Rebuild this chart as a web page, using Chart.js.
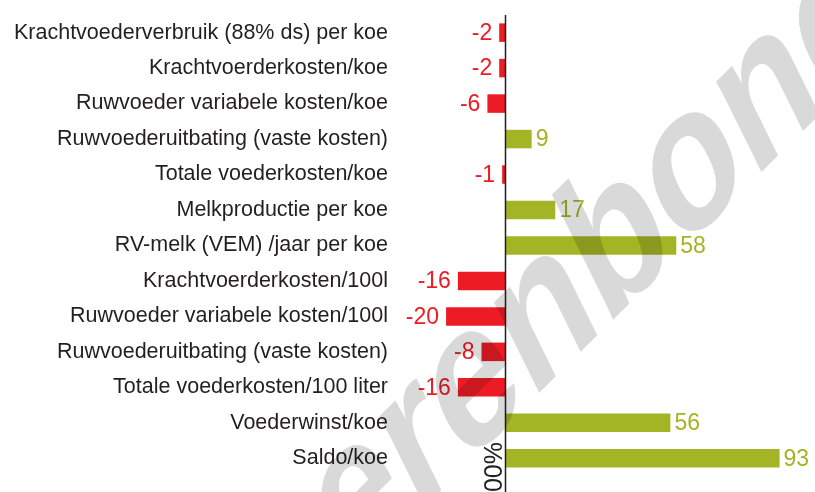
<!DOCTYPE html>
<html>
<head>
<meta charset="utf-8">
<script src="https://cdn.jsdelivr.net/npm/chart.js@4.4.1/dist/chart.umd.min.js"></script>
<style>
html,body{margin:0;padding:0;background:#ffffff;}
#wrap{width:815px;height:492px;position:relative;}
</style>
</head>
<body>
<div id="wrap"><canvas id="c"></canvas></div>
<script>
const categories = [
  'Krachtvoederverbruik (88% ds) per koe',
  'Krachtvoerderkosten/koe',
  'Ruwvoeder variabele kosten/koe',
  'Ruwvoederuitbating (vaste kosten)',
  'Totale voederkosten/koe',
  'Melkproductie per koe',
  'RV-melk (VEM) /jaar per koe',
  'Krachtvoerderkosten/100l',
  'Ruwvoeder variabele kosten/100l',
  'Ruwvoederuitbating (vaste kosten)',
  'Totale voederkosten/100 liter',
  'Voederwinst/koe',
  'Saldo/koe'
];
const values = [-2, -2, -6, 9, -1, 17, 58, -16, -20, -8, -16, 56, 93];
const axisNote = '100%';
const watermarkText = 'boerenbond';

const RED = '#ed1c24';
const GREEN = '#a3b524';
const INK = '#231f20';
const FONT = '"Liberation Sans", Arial, sans-serif';

function drawWatermark(chart) {
  const W = chart.width, H = chart.height;
  const off = document.createElement('canvas');
  off.width = W; off.height = H;
  const o = off.getContext('2d');
  const size = 210;
  const k = 0.705;
  const theta = -35 * Math.PI / 180;
  o.font = 'bold ' + size + 'px ' + FONT;
  const alongE = o.measureText(watermarkText.slice(0, 4)).width + o.measureText('e').width / 2;
  const px = alongE, py = -0.26 * size;
  const c = Math.cos(theta), s = Math.sin(theta);
  const rx = px * c - py * s, ry = px * s + py * c;
  const E = [475, 390];
  o.translate(E[0] - k * rx, E[1] - ry);
  o.scale(k, 1);
  o.rotate(theta);
  o.fillStyle = '#d9d9d9';
  o.textAlign = 'left';
  o.textBaseline = 'alphabetic';
  o.fillText(watermarkText, 0, 0);
  const ctx = chart.ctx;
  ctx.save();
  ctx.setTransform(1, 0, 0, 1, 0, 0);
  ctx.globalCompositeOperation = 'multiply';
  ctx.drawImage(off, 0, 0);
  ctx.restore();
}

const overlay = {
  id: 'overlay',
  afterDraw(chart) {
    const { ctx, chartArea, scales: { x } } = chart;
    const meta = chart.getDatasetMeta(0);
    ctx.save();
    ctx.font = '23px ' + FONT;
    ctx.textBaseline = 'middle';
    meta.data.forEach((bar, i) => {
      const v = values[i];
      ctx.fillStyle = v < 0 ? RED : GREEN;
      if (v < 0) {
        ctx.textAlign = 'right';
        ctx.fillText(String(v), bar.x - 7, bar.y + 1);
      } else {
        ctx.textAlign = 'left';
        ctx.fillText(String(v), bar.x + 4, bar.y + 1);
      }
    });
    const x0 = Math.round(x.getPixelForValue(0)) + 0.5;
    ctx.strokeStyle = INK;
    ctx.lineWidth = 1.5;
    ctx.beginPath();
    ctx.moveTo(x0, chartArea.top);
    ctx.lineTo(x0, chart.height);
    ctx.stroke();
    ctx.save();
    ctx.translate(x0 - 4, 442);
    ctx.rotate(-Math.PI / 2);
    ctx.font = '25px ' + FONT;
    ctx.fillStyle = INK;
    ctx.textAlign = 'right';
    ctx.textBaseline = 'alphabetic';
    ctx.fillText(axisNote, 0, 0);
    ctx.restore();
    ctx.restore();
    drawWatermark(chart);
  }
};

new Chart(document.getElementById('c'), {
  type: 'bar',
  data: {
    labels: categories,
    datasets: [{
      data: values,
      backgroundColor: values.map(v => v < 0 ? RED : GREEN),
      borderWidth: 0,
      barPercentage: 0.9,
      categoryPercentage: 0.58
    }]
  },
  options: {
    indexAxis: 'y',
    responsive: true,
    maintainAspectRatio: false,
    animation: false,
    layout: { padding: { top: 4, bottom: 16, left: 0, right: 0 } },
    plugins: { legend: { display: false }, tooltip: { enabled: false } },
    scales: {
      x: { type: 'linear', min: -39, max: 105, display: false },
      y: {
        grid: { display: false, drawTicks: false },
        border: { display: false },
        ticks: { color: INK, font: { family: FONT, size: 21.5 }, padding: 2, autoSkip: false },
        afterFit(s) { s.width = 390; }
      }
    }
  },
  plugins: [overlay]
});
</script>
</body>
</html>
